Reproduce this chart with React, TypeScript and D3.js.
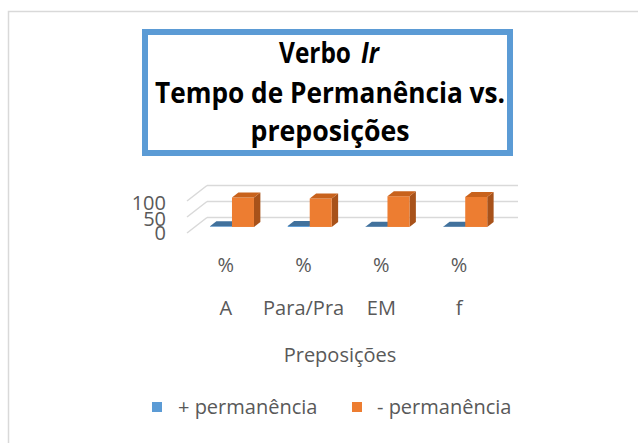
import * as d3 from "d3";

const categories = ["A", "Para/Pra", "EM", "f"];
const unitLabels = ["%", "%", "%", "%"];
const plusValues = [2, 3, 1, 1];
const minusValues = [92, 89, 96, 94];
const yTicks = [0, 50, 100];
const seriesNames = ["+ permanência", "- permanência"];

const W = 638;
const H = 443;

// 3d box of the plot (front plane + depth offset)
const FRONT_LEFT = 187;
const FRONT_RIGHT = 498;
const FLOOR = 233;
const DEPTH_X = 20;
const DEPTH_Y = -15.5;

const GRID = "#d9d9d9";
const TEXT = "#595959";
const FONT = "'Open Sans', sans-serif";

const blue = { front: "#5b9bd5", top: "#41719c", side: "#3b6a94" };
const orange = { front: "#ed7d31", top: "#c8621c", side: "#a8521a" };

export default function App() {
  const x = d3.scaleBand().domain(categories).range([FRONT_LEFT, FRONT_RIGHT]);
  const h = d3.scaleLinear().domain([0, 100]).range([0, 32]);
  const yFront = (v: number) => FLOOR - h(v);
  const bw = x.bandwidth();
  const barW = bw * 0.283;

  // bars sit between these fractions of the depth
  const f1 = 0.39;
  const f2 = 0.71;

  const box = (x0: number, v: number, c: typeof blue, key: string) => {
    const x1 = x0 + barW;
    const ax = DEPTH_X * f1, ay = DEPTH_Y * f1;
    const bx = DEPTH_X * f2, by = DEPTH_Y * f2;
    const bot1 = FLOOR + ay;
    const bot2 = FLOOR + by;
    const top1 = bot1 - h(v);
    const top2 = bot2 - h(v);
    const poly = (pts: number[][]) => pts.map((p) => p.join(",")).join(" ");
    return (
      <g key={key}>
        <polygon
          points={poly([[x1 + ax, top1], [x1 + bx, top2], [x1 + bx, bot2], [x1 + ax, bot1]])}
          fill={c.side}
        />
        <rect x={x0 + ax} y={top1} width={barW} height={Math.max(h(v), 0.01)} fill={c.front} />
        <polygon
          points={poly([[x0 + ax, top1], [x1 + ax, top1], [x1 + bx, top2], [x0 + bx, top2]])}
          fill={c.top}
        />
      </g>
    );
  };

  return (
    <svg
      width={W}
      height={H}
      style={{ position: "absolute", left: 0, top: 0, background: "#fff" }}
    >
      <rect x={8.5} y={11.5} width={720} height={520} fill="#fff" stroke={GRID} strokeWidth={1.5} />

      {/* title box */}
      <rect x={145} y={32} width={365} height={121} fill="#fff" stroke="#5b9bd5" strokeWidth={6} />
      <g fontFamily={FONT} fontWeight="bold" fontSize={28} fill="#000">
        <text x={279} y={63} textLength={72} lengthAdjust="spacingAndGlyphs">
          Verbo
        </text>
        <text x={361} y={63} textLength={18} lengthAdjust="spacingAndGlyphs" fontStyle="italic">
          Ir
        </text>
        <text x={330} y={103} textAnchor="middle" textLength={350} lengthAdjust="spacingAndGlyphs">
          Tempo de Permanência vs.
        </text>
        <text x={330} y={141} textAnchor="middle" textLength={159} lengthAdjust="spacingAndGlyphs">
          preposições
        </text>
      </g>

      {/* back wall gridlines and left wall */}
      <g stroke={GRID} strokeWidth={1.5} fill="none">
        {yTicks.map((t) => (
          <g key={t}>
            <line
              x1={FRONT_LEFT + DEPTH_X}
              x2={FRONT_RIGHT + DEPTH_X}
              y1={yFront(t) + DEPTH_Y}
              y2={yFront(t) + DEPTH_Y}
            />
            <line
              x1={FRONT_LEFT}
              x2={FRONT_LEFT + DEPTH_X}
              y1={yFront(t)}
              y2={yFront(t) + DEPTH_Y}
            />
          </g>
        ))}
      </g>

      {/* y tick labels */}
      <g fontFamily={FONT} fontSize={20} fill={TEXT} textAnchor="end">
        {yTicks.map((t) => (
          <text key={t} x={166} y={yFront(t) + (t === 0 ? 7 : 9)}>
            {t}
          </text>
        ))}
      </g>

      {/* bars */}
      {categories.map((c, i) => {
        const cx = (x(c) ?? 0) + bw / 2 - 1.7;
        return (
          <g key={c}>
            {box(cx - barW, plusValues[i], blue, "b")}
            {box(cx, minusValues[i], orange, "o")}
          </g>
        );
      })}

      {/* category labels */}
      <g fontFamily={FONT} fontSize={20} fill={TEXT} textAnchor="middle">
        {categories.map((c, i) => (
          <g key={c}>
            <text x={(x(c) ?? 0) + bw / 2} y={272}>
              {unitLabels[i]}
            </text>
            <text x={(x(c) ?? 0) + bw / 2} y={315}>
              {c}
            </text>
          </g>
        ))}
        <text x={340} y={362}>
          Preposições
        </text>
      </g>

      {/* legend */}
      <g fontFamily={FONT} fontSize={20} fill={TEXT}>
        <rect x={152} y={402} width={10} height={10} fill={blue.front} />
        <text x={178} y={414}>{seriesNames[0]}</text>
        <rect x={352} y={402} width={10} height={10} fill={orange.front} />
        <text x={377} y={414}>{seriesNames[1]}</text>
      </g>
    </svg>
  );
}
